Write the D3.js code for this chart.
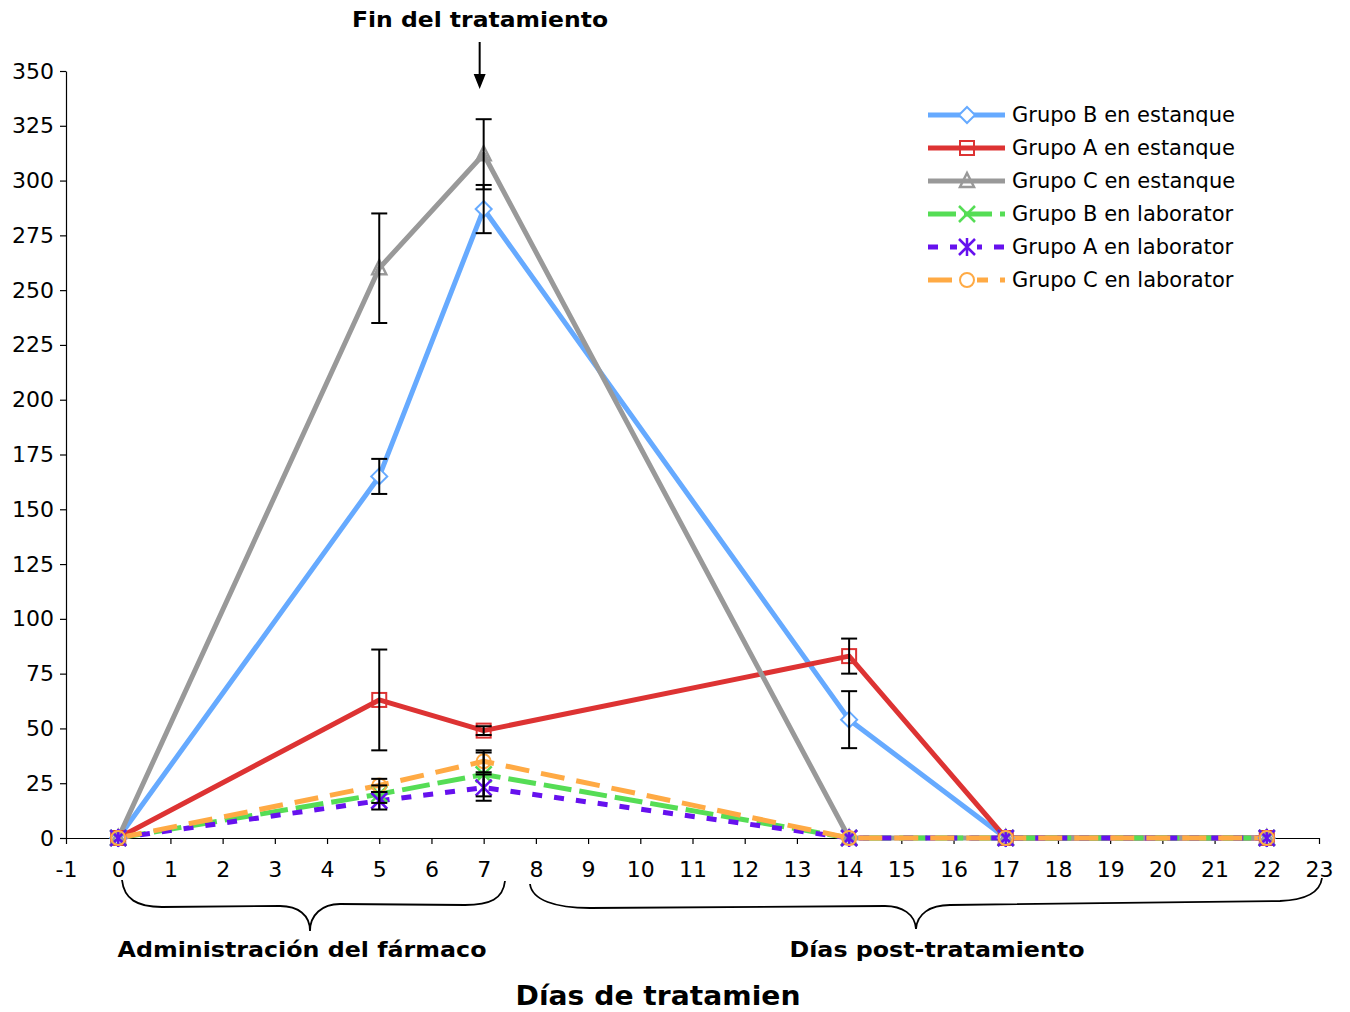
<!DOCTYPE html>
<html>
<head>
<meta charset="utf-8">
<script src="https://cdn.jsdelivr.net/npm/d3@7"></script>
<style>
  body { margin: 0; background: #fff; }
  text { font-family: "DejaVu Sans", Verdana, sans-serif; fill: #000; }
</style>
</head>
<body>
<svg id="chart" width="1350" height="1012"></svg>
<script>
'use strict';

// data
var days = [0, 5, 7, 14, 17, 22];
var xTicks = d3.range(-1, 24);
var yTicks = d3.range(0, 351, 25);

var seriesNames = [
  'Grupo B en estanque', 'Grupo A en estanque', 'Grupo C en estanque',
  'Grupo B en laborator', 'Grupo A en laborator', 'Grupo C en laborator'
];
var grupoBEstanque = [0, 165, 287, 54, 0, 0];
var grupoAEstanque = [0, 63, 49, 83, 0, 0];
var grupoCEstanque = [0, 260, 312, 0, 0, 0];
var grupoBLab = [0, 20, 29, 0, 0, 0];
var grupoALab = [0, 17, 23, 0, 0, 0];
var grupoCLab = [0, 24, 35, 0, 0, 0];

var errBEstanque = [0, 8, 11, 13, 0, 0];
var errAEstanque = [0, 23, 2, 8, 0, 0];
var errCEstanque = [0, 25, 16, 0, 0, 0];
var errBLab = [0, 4, 10, 0, 0, 0];
var errALab = [0, 4, 6, 0, 0, 0];
var errCLab = [0, 3, 5, 0, 0, 0];

var colors = ['#66aaff', '#dd3333', '#999999', '#55dd55', '#6611ee', '#ffaa44'];
var dashes = [null, null, null, '28,8', '10,12', '24,12'];
var markers = ['diamond', 'square', 'triangle', 'cross', 'asterisk', 'circle'];

var series = [
  { name: seriesNames[0], values: grupoBEstanque, err: errBEstanque },
  { name: seriesNames[1], values: grupoAEstanque, err: errAEstanque },
  { name: seriesNames[2], values: grupoCEstanque, err: errCEstanque },
  { name: seriesNames[3], values: grupoBLab, err: errBLab },
  { name: seriesNames[4], values: grupoALab, err: errALab },
  { name: seriesNames[5], values: grupoCLab, err: errCLab }
];
series.forEach(function(s, i) {
  s.color = colors[i];
  s.dash = dashes[i];
  s.marker = markers[i];
  s.points = days.map(function(d, j) {
    return { x: d, y: s.values[j], e: s.err[j] };
  });
});

var svg = d3.select('#chart');
var xScale = d3.scaleLinear().domain([-1, 23]).range([66, 1319]);
var yScale = d3.scaleLinear().domain([0, 350]).range([838, 71]);

// axes
var xAxis = svg.append('g')
  .attr('transform', 'translate(0,' + yScale(0) + ')')
  .call(d3.axisBottom(xScale).tickValues(xTicks).tickFormat(function(d) { return String(d); })
    .tickSize(6).tickPadding(17).tickSizeOuter(0));
xAxis.selectAll('text').style('font-size', '22px');

var yAxis = svg.append('g')
  .attr('transform', 'translate(' + xScale(-1) + ',0)')
  .call(d3.axisLeft(yScale).tickValues(yTicks).tickSize(6).tickPadding(6).tickSizeOuter(0));
yAxis.selectAll('text').style('font-size', '22px');

svg.selectAll('.domain').attr('stroke', '#000').attr('stroke-width', 1.2);
svg.selectAll('.tick line').attr('stroke', '#000').attr('stroke-width', 1.2);

function drawMarker(g, type, color, size) {
  var h = size / 2;
  if (type === 'diamond') {
    g.append('path').attr('d', 'M0,' + (-h) + 'L' + h + ',0L0,' + h + 'L' + (-h) + ',0Z')
      .attr('fill', 'white').attr('stroke', color).attr('stroke-width', 2);
  } else if (type === 'square') {
    g.append('rect').attr('x', -h + 1).attr('y', -h + 1).attr('width', size - 2).attr('height', size - 2)
      .attr('fill', 'none').attr('stroke', color).attr('stroke-width', 2);
  } else if (type === 'triangle') {
    g.append('path').attr('d', 'M0,' + (-h) + 'L' + (h - 1) + ',' + (h - 2) + 'L' + (-h + 1) + ',' + (h - 2) + 'Z')
      .attr('fill', 'none').attr('stroke', color).attr('stroke-width', 2.5);
  } else if (type === 'cross') {
    g.append('path').attr('d', 'M' + (-h) + ',' + (-h) + 'L' + h + ',' + h + 'M' + h + ',' + (-h) + 'L' + (-h) + ',' + h)
      .attr('stroke', color).attr('stroke-width', 2.5);
  } else if (type === 'asterisk') {
    g.append('path').attr('d', 'M' + (-h) + ',' + (-h) + 'L' + h + ',' + h + 'M' + h + ',' + (-h) + 'L' + (-h) + ',' + h +
      'M0,' + (-h - 1) + 'L0,' + (h + 1))
      .attr('stroke', color).attr('stroke-width', 2.5);
  } else if (type === 'circle') {
    g.append('circle').attr('r', h - 1)
      .attr('fill', 'none').attr('stroke', color).attr('stroke-width', 2);
  }
}

var line = d3.line()
  .x(function(d) { return xScale(d.x); })
  .y(function(d) { return yScale(d.y); });

// lines and markers
series.forEach(function(s) {
  svg.append('path')
    .datum(s.points)
    .attr('d', line)
    .attr('fill', 'none')
    .attr('stroke', s.color)
    .attr('stroke-width', 5)
    .attr('stroke-dasharray', s.dash)
    .attr('stroke-linejoin', 'round');
});
series.forEach(function(s) {
  s.points.forEach(function(p) {
    var g = svg.append('g').attr('transform', 'translate(' + xScale(p.x) + ',' + yScale(p.y) + ')');
    drawMarker(g, s.marker, s.color, 16);
  });
});

// error bars
var errPts = [];
series.forEach(function(s) {
  s.points.forEach(function(p) { if (p.e > 0) errPts.push(p); });
});
var eb = svg.selectAll('g.err').data(errPts).enter().append('g').attr('class', 'err');
eb.append('line')
  .attr('x1', function(d) { return xScale(d.x); })
  .attr('x2', function(d) { return xScale(d.x); })
  .attr('y1', function(d) { return yScale(d.y + d.e); })
  .attr('y2', function(d) { return yScale(d.y - d.e); });
eb.append('line')
  .attr('x1', function(d) { return xScale(d.x) - 8; })
  .attr('x2', function(d) { return xScale(d.x) + 8; })
  .attr('y1', function(d) { return yScale(d.y + d.e); })
  .attr('y2', function(d) { return yScale(d.y + d.e); });
eb.append('line')
  .attr('x1', function(d) { return xScale(d.x) - 8; })
  .attr('x2', function(d) { return xScale(d.x) + 8; })
  .attr('y1', function(d) { return yScale(d.y - d.e); })
  .attr('y2', function(d) { return yScale(d.y - d.e); });
eb.selectAll('line').attr('stroke', '#000').attr('stroke-width', 2);

// legend
svg.append('clipPath').attr('id', 'legclip')
  .append('rect').attr('x', 900).attr('y', 90).attr('width', 337).attr('height', 210);
var leg = svg.append('g').attr('clip-path', 'url(#legclip)');
series.forEach(function(s, i) {
  var y = 115 + i * 33;
  leg.append('line')
    .attr('x1', 928).attr('x2', 1005).attr('y1', y).attr('y2', y)
    .attr('stroke', s.color).attr('stroke-width', 5)
    .attr('stroke-dasharray', s.dash);
  var g = leg.append('g').attr('transform', 'translate(967,' + y + ')');
  if (s.marker === 'circle' || s.marker === 'asterisk') {
    g.append('rect').attr('x', -10).attr('y', -4).attr('width', 20).attr('height', 8).attr('fill', 'white');
  }
  drawMarker(g, s.marker, s.color, 16);
  leg.append('text')
    .attr('x', 1012).attr('y', y + 7)
    .style('font-size', '21px')
    .text(s.name);
});

// annotations
svg.append('text')
  .attr('x', 480).attr('y', 27)
  .attr('text-anchor', 'middle')
  .style('font-size', '22px').style('font-weight', 'bold')
  .attr('textLength', 256).attr('lengthAdjust', 'spacingAndGlyphs')
  .text('Fin del tratamiento');

var arrowX = xScale(7) - 4;
svg.append('line')
  .attr('x1', arrowX).attr('x2', arrowX).attr('y1', 42).attr('y2', 76)
  .attr('stroke', '#000').attr('stroke-width', 2);
svg.append('path')
  .attr('d', 'M' + (arrowX - 6) + ',74L' + (arrowX + 6) + ',74L' + arrowX + ',89Z')
  .attr('fill', '#000');

// braces
svg.append('path')
  .attr('d', 'M122,880C124,899 137,907 162,907L280,906C298,906 310,915 310,931C310,915 322,904 340,904' +
    'L465,905C490,905 503,899 505,881')
  .attr('fill', 'none').attr('stroke', '#000').attr('stroke-width', 1.8);
svg.append('path')
  .attr('d', 'M530,884C532,900 555,908 590,908L885,906C902,906 915,914 916,929C917,914 930,905 950,905' +
    'L1280,901C1305,900 1320,893 1322,878')
  .attr('fill', 'none').attr('stroke', '#000').attr('stroke-width', 1.8);

svg.append('text')
  .attr('x', 302).attr('y', 957)
  .attr('text-anchor', 'middle')
  .style('font-size', '22px').style('font-weight', 'bold')
  .attr('textLength', 369).attr('lengthAdjust', 'spacingAndGlyphs')
  .text('Administración del fármaco');
svg.append('text')
  .attr('x', 937).attr('y', 957)
  .attr('text-anchor', 'middle')
  .style('font-size', '22px').style('font-weight', 'bold')
  .attr('textLength', 295).attr('lengthAdjust', 'spacingAndGlyphs')
  .text('Días post-tratamiento');
svg.append('text')
  .attr('x', 658).attr('y', 1005)
  .attr('text-anchor', 'middle')
  .style('font-size', '27px').style('font-weight', 'bold')
  .attr('textLength', 285).attr('lengthAdjust', 'spacingAndGlyphs')
  .text('Días de tratamien');
</script>
</body>
</html>
